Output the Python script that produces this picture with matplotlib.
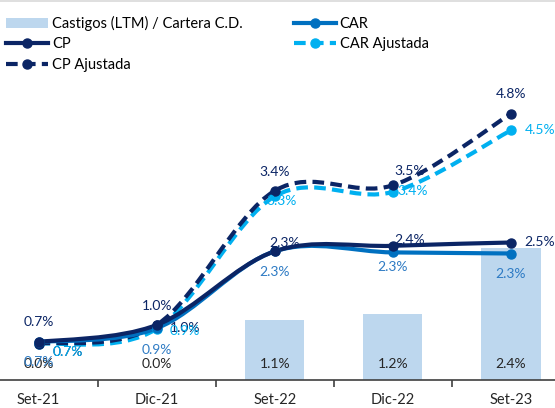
import numpy as np
import matplotlib
matplotlib.use("Agg")
import matplotlib.pyplot as plt
from matplotlib.path import Path
from matplotlib.patches import PathPatch, Patch
from matplotlib.lines import Line2D

plt.rcParams['font.family'] = ['Lato', 'DejaVu Sans']

# data
periods = ['Set-21', 'Dic-21', 'Set-22', 'Dic-22', 'Set-23']
castigos = [0.0, 0.0, 1.1, 1.2, 2.4]
cp = [0.69, 1.00, 2.34, 2.44, 2.50]
cp_aj = [0.66, 1.00, 3.44, 3.54, 4.84]
car = [0.69, 0.94, 2.34, 2.32, 2.30]
car_aj = [0.66, 0.93, 3.34, 3.42, 4.54]

NAVY = '#0B2565'
BLUE = '#0070C0'
CYAN = '#00B0F0'
BAR = '#BDD7EE'
BLUE_TXT = '#2E7BC4'
DASH = (0, (2.8, 1.5))

# label offsets in pixels (dx right, dy down)
off_cp = [(0, -20), (0, -19), (10, -8), (17, -6), (29, 0)]
off_cp_aj = [(29, 8), (28, 3), (0, -19), (17, -14), (0, -20)]
off_car_aj = [(29, 8), (28, 2), (7, 5), (20, -1), (29, 0)]
off_car = [(0, 20), (0, 22), (0, 21), (0, 15), (0, 21)]


def smooth_path(xs, ys):
    # excel-like smoothed line (catmull-rom as cubic bezier)
    pts = np.column_stack([xs, ys]).astype(float)
    n = len(pts)
    verts = [pts[0]]
    codes = [Path.MOVETO]
    for i in range(n - 1):
        p0 = pts[max(i - 1, 0)]
        p1 = pts[i]
        p2 = pts[i + 1]
        p3 = pts[min(i + 2, n - 1)]
        verts += [p1 + (p2 - p0) / 6, p2 - (p3 - p1) / 6, p2]
        codes += [Path.CURVE4] * 3
    return Path(verts, codes)


W, H = 555, 408
fig = plt.figure(figsize=(W / 100, H / 100), dpi=100)
x0_px, step_px, base_px = 38.5, 118.1, 380
ax = fig.add_axes([0, (H - base_px) / H, 1, base_px / H])
ax.set_xlim(-x0_px / step_px, 4 + (W - 511) / step_px)
ax.set_ylim(0, base_px / 55.0)

x = np.arange(len(periods))
ax.bar(x, castigos, width=0.5, color=BAR, zorder=1)

series = [
    (car_aj, CYAN, DASH),
    (cp_aj, NAVY, DASH),
    (car, BLUE, '-'),
    (cp, NAVY, '-'),
]
for ys, col, ls in series:
    ax.add_patch(PathPatch(smooth_path(x, ys), facecolor='none', edgecolor=col,
                           lw=3, linestyle=ls, capstyle='butt', zorder=2))
    ax.plot(x, ys, 'o', ms=6.5, color=col, zorder=3)


def put_labels(vals, offs, col):
    for xi, v, (dx, dy) in zip(x, vals, offs):
        ax.annotate(f'{v:.1f}%', (xi, v), xytext=(dx * 0.72, -dy * 0.72),
                    textcoords='offset points', ha='center', va='center',
                    fontsize=10, color=col, zorder=4)


for xi, v in zip(x, castigos):
    ax.annotate(f'{v:.1f}%', (xi, 0), xytext=(0, 16 * 0.72), textcoords='offset points',
                ha='center', va='center', fontsize=10, color='#262626', zorder=4)
put_labels(car, off_car, BLUE_TXT)
put_labels(cp_aj, off_cp_aj, NAVY)
put_labels(car_aj, off_car_aj, CYAN)
put_labels(cp, off_cp, NAVY)

for s in ['top', 'right', 'left']:
    ax.spines[s].set_visible(False)
ax.spines['bottom'].set_color('#404040')
ax.spines['bottom'].set_linewidth(1.2)
ax.set_yticks([])
ax.set_xticks(x)
ax.set_xticklabels(periods, fontsize=10.5, color='#262626')
ax.tick_params(axis='x', which='major', length=0, pad=9)
ax.set_xticks(x[:-1] + 0.5, minor=True)
ax.tick_params(axis='x', which='minor', length=5, width=1.2, color='#404040')

handles = [
    Patch(facecolor=BAR, edgecolor='none'),
    Line2D([], [], color=NAVY, lw=3, marker='o', ms=6.5),
    Line2D([], [], color=NAVY, lw=3, marker='o', ms=6.5, linestyle=DASH),
    Line2D([], [], color=BLUE, lw=3, marker='o', ms=6.5),
    Line2D([], [], color=CYAN, lw=3, marker='o', ms=6.5, linestyle=DASH),
]
labels = ['Castigos (LTM) / Cartera C.D.', 'CP', 'CP Ajustada', 'CAR', 'CAR Ajustada']
fig.legend(handles, labels, ncol=2, loc='upper left', bbox_to_anchor=(0.0, 1 - 10 / H),
           frameon=False, fontsize=10.5, handlelength=2.9, handletextpad=0.25,
           columnspacing=3.5, labelspacing=0.45, borderaxespad=0, borderpad=0.4)

fig.add_artist(Line2D([0, 1], [1 - 0.7 / H] * 2, color='#D9D9D9', lw=1.2))

fig.savefig('out.png', dpi=100)
